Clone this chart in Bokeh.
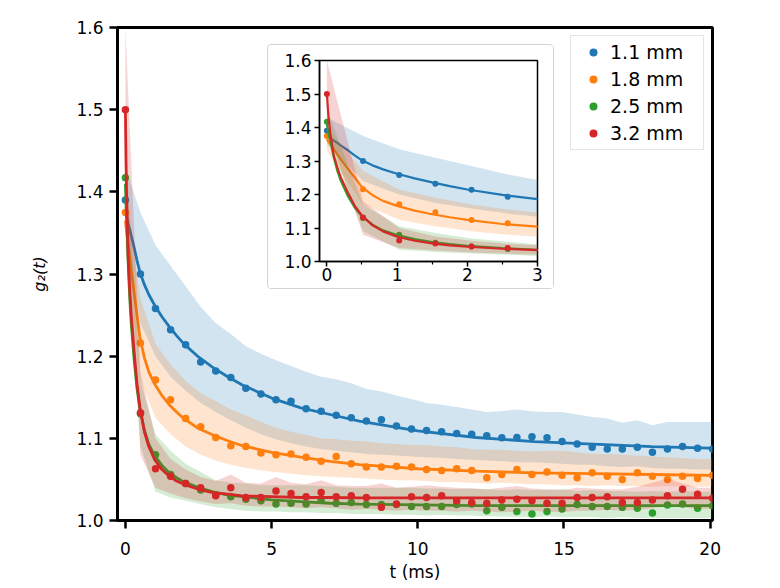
from bokeh.plotting import figure
from bokeh.models import ColumnDataSource, Range1d, FixedTicker, Legend, LegendItem, PrintfTickFormatter
from bokeh.embed import file_html
from bokeh.resources import INLINE

# ---------------- data ----------------
labels = ["1.1 mm", "1.8 mm", "2.5 mm", "3.2 mm"]
colors = ["#1f77b4", "#ff7f0e", "#2ca02c", "#d62728"]

t = [0.0, 0.515, 1.03, 1.545, 2.06, 2.575, 3.09, 3.605, 4.12, 4.635, 5.15, 5.665,
     6.18, 6.695, 7.21, 7.725, 8.24, 8.755, 9.27, 9.785, 10.3, 10.815, 11.33, 11.845,
     12.36, 12.875, 13.39, 13.905, 14.42, 14.935, 15.45, 15.965, 16.48, 16.995, 17.51,
     18.025, 18.54, 19.055, 19.57, 20.085]

g_11 = [1.390, 1.300, 1.258, 1.232, 1.214, 1.193, 1.182, 1.174, 1.161, 1.154, 1.147, 1.145,
        1.136, 1.133, 1.128, 1.125, 1.121, 1.1225, 1.115, 1.1115, 1.1095, 1.108, 1.106, 1.105,
        1.103, 1.1006, 1.101, 1.102, 1.1006, 1.096, 1.093, 1.089, 1.087, 1.087, 1.089, 1.083,
        1.087, 1.090, 1.088, 1.087]
g_18 = [1.375, 1.216, 1.171, 1.147, 1.124, 1.114, 1.101, 1.091, 1.090, 1.082, 1.080, 1.081,
        1.077, 1.072, 1.078, 1.069, 1.065, 1.065, 1.066, 1.065, 1.062, 1.061, 1.063, 1.061,
        1.052, 1.056, 1.062, 1.056, 1.059, 1.055, 1.052, 1.058, 1.054, 1.050, 1.058, 1.054,
        1.050, 1.054, 1.051, 1.055]
g_25 = [1.417, 1.130, 1.080, 1.056, 1.045, 1.037, 1.031, 1.029, 1.026, 1.024, 1.020, 1.021,
        1.020, 1.025, 1.021, 1.022, 1.0195, 1.0195, 1.0195, 1.017, 1.017, 1.017, 1.0195, 1.020,
        1.012, 1.016, 1.011, 1.008, 1.011, 1.014, 1.0195, 1.017, 1.017, 1.016, 1.015, 1.009,
        1.019, 1.020, 1.015, 1.018]
g_32 = [1.500, 1.131, 1.063, 1.054, 1.045, 1.040, 1.030, 1.040, 1.028, 1.028, 1.036, 1.033,
        1.029, 1.034, 1.029, 1.030, 1.028, 1.016, 1.020, 1.029, 1.028, 1.030, 1.024, 1.022,
        1.021, 1.025, 1.026, 1.024, 1.021, 1.021, 1.028, 1.028, 1.029, 1.022, 1.022, 1.025,
        1.030, 1.038, 1.032, 1.027]

# shaded spread (lower / upper) at each time point
lo_11 = [1.350, 1.240, 1.200, 1.175, 1.158, 1.143, 1.132, 1.122, 1.113, 1.105, 1.099, 1.094,
         1.090, 1.087, 1.085, 1.083, 1.081, 1.080, 1.079, 1.078, 1.077, 1.076, 1.075, 1.074,
         1.073, 1.072, 1.071, 1.071, 1.070, 1.069, 1.068, 1.068, 1.066, 1.065, 1.066, 1.064,
         1.063, 1.063, 1.062, 1.062]
hi_11 = [1.430, 1.375, 1.335, 1.310, 1.285, 1.260, 1.240, 1.227, 1.212, 1.203, 1.195, 1.188,
         1.181, 1.175, 1.172, 1.167, 1.160, 1.157, 1.152, 1.148, 1.143, 1.141, 1.138, 1.135,
         1.132, 1.133, 1.135, 1.133, 1.132, 1.132, 1.129, 1.126, 1.124, 1.119, 1.122, 1.116,
         1.120, 1.120, 1.120, 1.120]
lo_18 = [1.330, 1.170, 1.125, 1.105, 1.090, 1.080, 1.073, 1.068, 1.064, 1.061, 1.059, 1.057,
         1.055, 1.054, 1.053, 1.052, 1.051, 1.050, 1.049, 1.049, 1.048, 1.047, 1.047, 1.046,
         1.045, 1.046, 1.045, 1.044, 1.044, 1.043, 1.043, 1.042, 1.043, 1.042, 1.042, 1.041,
         1.042, 1.041, 1.041, 1.041]
hi_18 = [1.400, 1.270, 1.215, 1.190, 1.170, 1.155, 1.145, 1.135, 1.128, 1.120, 1.113, 1.108,
         1.104, 1.100, 1.099, 1.097, 1.096, 1.094, 1.093, 1.092, 1.092, 1.090, 1.089, 1.087,
         1.086, 1.086, 1.085, 1.084, 1.085, 1.085, 1.083, 1.081, 1.081, 1.080, 1.079, 1.078,
         1.077, 1.076, 1.075, 1.075]
lo_25 = [1.375, 1.090, 1.035, 1.028, 1.024, 1.020, 1.016, 1.014, 1.012, 1.011, 1.011, 1.010,
         1.010, 1.009, 1.009, 1.008, 1.008, 1.008, 1.007, 1.007, 1.006, 1.007, 1.006, 1.006,
         1.005, 1.005, 1.004, 1.004, 1.005, 1.004, 1.004, 1.004, 1.003, 1.004, 1.003, 1.003,
         1.003, 1.003, 1.003, 1.003]
hi_25 = [1.455, 1.170, 1.105, 1.085, 1.069, 1.059, 1.049, 1.046, 1.045, 1.043, 1.043, 1.043,
         1.043, 1.042, 1.041, 1.040, 1.040, 1.040, 1.040, 1.040, 1.039, 1.039, 1.038, 1.039,
         1.038, 1.037, 1.038, 1.037, 1.037, 1.038, 1.036, 1.037, 1.036, 1.036, 1.035, 1.036,
         1.035, 1.036, 1.035, 1.035]
lo_32 = [1.400, 1.080, 1.040, 1.033, 1.027, 1.023, 1.020, 1.021, 1.018, 1.017, 1.017, 1.016,
         1.015, 1.016, 1.015, 1.013, 1.014, 1.013, 1.012, 1.013, 1.012, 1.012, 1.011, 1.012,
         1.011, 1.010, 1.011, 1.012, 1.011, 1.010, 1.012, 1.012, 1.013, 1.012, 1.013, 1.015,
         1.018, 1.016, 1.014, 1.014]
hi_32 = [1.600, 1.180, 1.100, 1.075, 1.062, 1.053, 1.048, 1.056, 1.046, 1.045, 1.053, 1.046,
         1.044, 1.049, 1.043, 1.042, 1.042, 1.045, 1.040, 1.041, 1.043, 1.041, 1.040, 1.039,
         1.038, 1.040, 1.042, 1.039, 1.038, 1.037, 1.040, 1.039, 1.038, 1.038, 1.041, 1.046,
         1.051, 1.045, 1.040, 1.040]

# fitted curves, read at these times
t_fit = [0.0, 0.02, 0.05, 0.1, 0.15, 0.2, 0.3, 0.4, 0.5, 0.65, 0.8, 1.0, 1.25, 1.5, 1.75,
         2.0, 2.5, 3.0, 3.5, 4.0, 5.0, 6.0, 7.0, 8.0, 10.0, 12.0, 14.0, 16.0, 18.0, 20.0]
fit_11 = [1.375, 1.372, 1.368, 1.360, 1.354, 1.346, 1.332, 1.316, 1.302, 1.287, 1.275, 1.262,
          1.248, 1.236, 1.225, 1.215, 1.199, 1.186, 1.175, 1.165, 1.149, 1.137, 1.129, 1.121,
          1.109, 1.101, 1.096, 1.093, 1.090, 1.088]
fit_18 = [1.365, 1.358, 1.350, 1.335, 1.320, 1.304, 1.277, 1.250, 1.222, 1.198, 1.181, 1.166,
          1.152, 1.141, 1.132, 1.124, 1.112, 1.104, 1.097, 1.091, 1.083, 1.077, 1.072, 1.068,
          1.063, 1.060, 1.058, 1.057, 1.056, 1.055]
fit_25 = [1.410, 1.385, 1.360, 1.310, 1.270, 1.240, 1.195, 1.160, 1.135, 1.110, 1.093, 1.079,
          1.067, 1.058, 1.052, 1.047, 1.040, 1.035, 1.031, 1.029, 1.025, 1.023, 1.021, 1.020,
          1.019, 1.018, 1.018, 1.018, 1.018, 1.018]
fit_32 = [1.500, 1.440, 1.380, 1.315, 1.280, 1.250, 1.205, 1.165, 1.137, 1.108, 1.090, 1.074,
          1.062, 1.054, 1.048, 1.044, 1.038, 1.034, 1.032, 1.030, 1.029, 1.028, 1.028, 1.0275,
          1.0275, 1.0275, 1.0275, 1.0275, 1.0275, 1.0275]

main_x_ticks = [0, 5, 10, 15, 20]
y_ticks = [1.0, 1.1, 1.2, 1.3, 1.4, 1.5, 1.6]
inset_x_ticks = [0, 1, 2, 3]
inset_x_minor = [0.5, 1.5, 2.5]

series = [
    (g_11, lo_11, hi_11, fit_11),
    (g_18, lo_18, hi_18, fit_18),
    (g_25, lo_25, hi_25, fit_25),
    (g_32, lo_32, hi_32, fit_32),
]

FONT = "DejaVu Sans"

# ---------------- main figure ----------------
p = figure(width=770, height=588, output_backend="svg", toolbar_location=None,
           x_range=Range1d(-0.27, 20.08), y_range=Range1d(1.0, 1.6),
           min_border_left=117, min_border_right=58, min_border_top=27, min_border_bottom=68)
p.grid.visible = False
p.outline_line_color = "black"
p.outline_line_width = 3
p.background_fill_color = "white"
p.border_fill_color = "white"

for ax in (p.xaxis[0], p.yaxis[0]):
    ax.axis_line_width = 3
    ax.axis_line_color = "black"
    ax.major_tick_line_width = 2.5
    ax.major_tick_out = 8
    ax.major_tick_in = 0
    ax.minor_tick_out = 0
    ax.minor_tick_in = 0
    ax.major_label_text_font = FONT
    ax.major_label_text_font_size = "17px"
    ax.major_label_text_color = "black"
    ax.axis_label_text_font = FONT
    ax.axis_label_text_font_size = "17px"
    ax.axis_label_text_color = "black"

p.xaxis.ticker = FixedTicker(ticks=main_x_ticks)
p.yaxis.ticker = FixedTicker(ticks=y_ticks)
p.yaxis.formatter = PrintfTickFormatter(format="%.1f")
p.xaxis.axis_label = "t (ms)"
p.yaxis.axis_label = "g\u2082(t)"
p.yaxis.axis_label_text_font_style = "italic"
p.yaxis.axis_label_text_font_size = "16px"
p.xaxis.axis_label_text_font_style = "normal"
p.xaxis.major_label_standoff = 13
p.xaxis.axis_label_standoff = 4
p.yaxis.major_label_standoff = 6
p.yaxis.axis_label_standoff = 24

legend_items = []
for (g, lo, hi, fit), c, lab in zip(series, colors, labels):
    src = ColumnDataSource(dict(t=t, g=g, lo=lo, hi=hi))
    fsrc = ColumnDataSource(dict(t=t_fit, f=fit))
    p.varea(x="t", y1="lo", y2="hi", source=src, fill_color=c, fill_alpha=0.2)
    r = p.scatter(x="t", y="g", source=src, size=7.5, color=c, line_width=0)
    p.line(x="t", y="f", source=fsrc, line_color=c, line_width=2.8)
    legend_items.append(LegendItem(label=lab, renderers=[r]))

legend = Legend(items=legend_items, location="top_right")
legend.label_text_font = FONT
legend.label_text_font_size = "19px"
legend.label_text_color = "black"
legend.glyph_width = 34
legend.glyph_height = 20
legend.label_height = 20
legend.label_width = 88
legend.spacing = 5
legend.padding = 5
legend.margin = 8
legend.label_standoff = 0
legend.border_line_color = "#cccccc"
legend.border_line_width = 1
legend.background_fill_color = "white"
legend.background_fill_alpha = 0.9
p.add_layout(legend)

# ---------------- inset figure ----------------
ins = figure(width=287, height=245, output_backend="svg", toolbar_location=None,
             x_range=Range1d(-0.105, 3.0), y_range=Range1d(1.0, 1.6),
             min_border_left=51, min_border_right=18, min_border_top=15, min_border_bottom=29)
ins.grid.visible = False
ins.outline_line_color = "black"
ins.outline_line_width = 1.5
for ax in (ins.xaxis[0], ins.yaxis[0]):
    ax.axis_line_width = 1.5
    ax.major_tick_line_width = 1.5
    ax.minor_tick_line_width = 1.2
    ax.major_tick_out = 5
    ax.major_tick_in = 0
    ax.minor_tick_out = 3
    ax.minor_tick_in = 0
    ax.major_label_text_font = FONT
    ax.major_label_text_font_size = "17px"
    ax.major_label_text_color = "black"
ins.xaxis.ticker = FixedTicker(ticks=inset_x_ticks, minor_ticks=inset_x_minor)
ins.yaxis.ticker = FixedTicker(ticks=y_ticks)
ins.yaxis.formatter = PrintfTickFormatter(format="%.1f")
ins.xaxis.major_label_standoff = 1
ins.yaxis.major_label_standoff = 3

for (g, lo, hi, fit), c in zip(series, colors):
    src = ColumnDataSource(dict(t=t, g=g, lo=lo, hi=hi))
    fsrc = ColumnDataSource(dict(t=t_fit, f=fit))
    ins.varea(x="t", y1="lo", y2="hi", source=src, fill_color=c, fill_alpha=0.2)
    ins.scatter(x="t", y="g", source=src, size=6, color=c, line_width=0)
    ins.line(x="t", y="f", source=fsrc, line_color=c, line_width=2.2)

ins.styles = {"position": "absolute", "left": "267px", "top": "44px",
              "border": "1px solid #d4d4d4", "border-radius": "4px", "z-index": "5"}

open("out.html", "w").write(file_html([p, ins], INLINE))
